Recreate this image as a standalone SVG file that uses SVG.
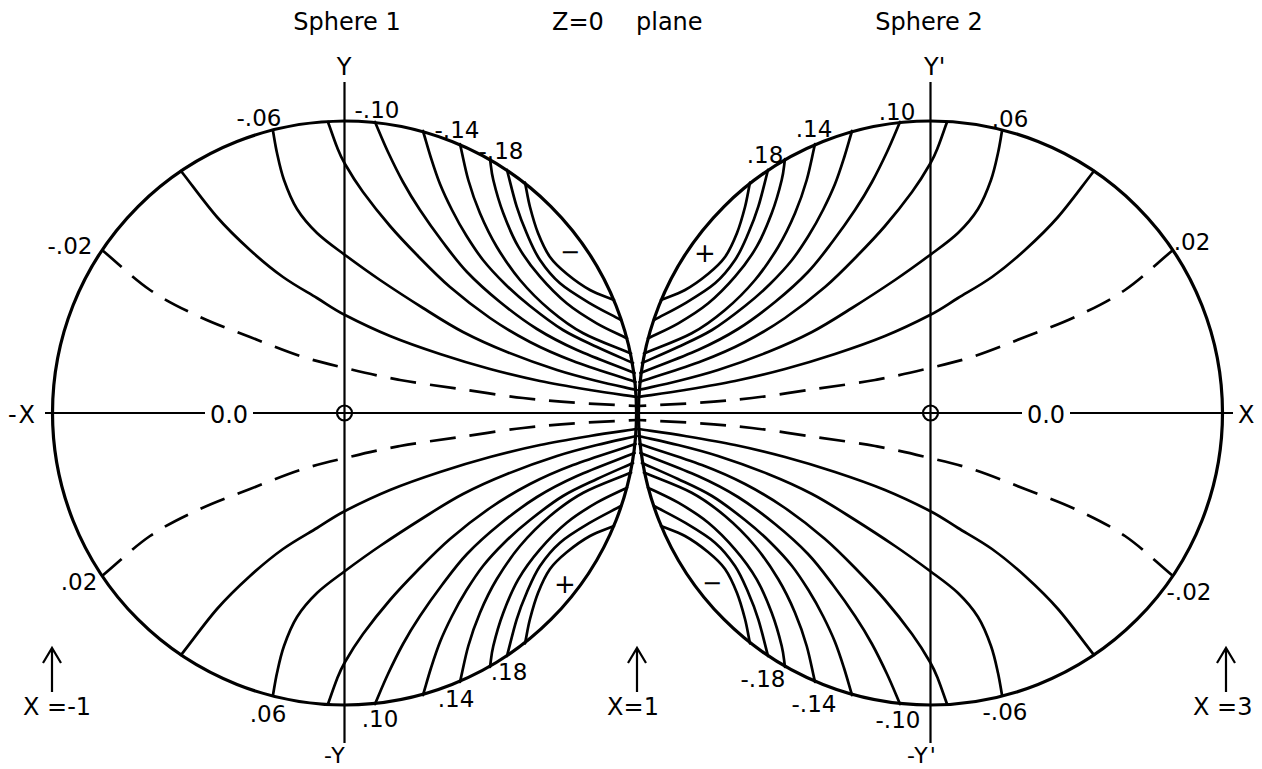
<svg xmlns="http://www.w3.org/2000/svg" width="1262" height="769" viewBox="0 0 1262 769">
<style>
.c{fill:none;stroke:#000;stroke-width:2.7;stroke-linecap:round}
.d{fill:none;stroke:#000;stroke-width:2.7;stroke-dasharray:26 14}
.s{fill:none;stroke:#000;stroke-width:3.2}
.ax{fill:none;stroke:#000;stroke-width:2.2}
text{font-family:"DejaVu Sans","Liberation Sans",sans-serif;fill:#000}
.lb{font-size:23px;text-anchor:middle}
.t{font-size:24px}
.m{text-anchor:middle}
</style>
<defs>
<g id="quad">
<path class="c" d="M525,182.5 C526.7,190.7 527.8,198.6 530,207 C532.2,215.4 534.7,224.7 538,233 C541.3,241.3 545.2,250.2 550,257 C554.8,263.8 560.3,268.5 567,274 C573.7,279.5 582.2,285.7 590,290 C597.8,294.3 606,296.7 614,300"/>
<path class="c" d="M507,170 C510.2,182.2 513.4,196.1 516.7,206.7 C520,217.3 522.8,224.4 526.7,233.3 C530.6,242.2 534.4,251.7 540,260 C545.6,268.3 551.7,276.1 560,283.3 C568.3,290.5 579.8,297.2 590,303.3 C600.2,309.4 610.7,314.4 621,320"/>
<path class="c" d="M490,159 C491.1,166 491.1,171 493.3,180 C495.5,189.1 499.1,202.2 503.3,213.3 C507.5,224.4 512.2,236.1 518.3,246.7 C524.4,257.3 531.9,267.3 540,276.7 C548.1,286.1 557.2,295.5 566.7,303.3 C576.2,311.1 586.7,317.5 596.7,323.3 C606.7,329.1 616.9,333.3 627,338.3"/>
<path class="c" d="M460,144 C462.8,156 465,168.4 468.3,180 C471.6,191.6 475.3,202.2 480,213.3 C484.7,224.4 490,235.6 496.7,246.7 C503.4,257.8 511.1,269.4 520,280 C528.9,290.6 539.4,301.1 550,310 C560.6,318.9 569.8,326.1 583.3,333.3 C596.8,340.6 615.1,346.8 631,353.5"/>
<path class="c" d="M423,131 C425.7,140 428.2,149.2 431,158 C433.8,166.8 436.5,175.3 440,184 C443.5,192.7 447.7,201.5 452,210 C456.3,218.5 460.8,226.7 466,235 C471.2,243.3 476.5,251.8 483,260 C489.5,268.2 497.2,276.3 505,284 C512.8,291.7 520.3,298.3 530,306 C539.7,313.7 551.8,323.2 563,330 C574.2,336.8 585.3,341.5 597,347 C608.7,352.5 621,357.7 633,363"/>
<path class="c" d="M375,122 C379.3,132 383.3,142 388,152 C392.7,162 397.7,172.3 403,182 C408.3,191.7 413.5,200.2 420,210 C426.5,219.8 434.2,230.7 442,241 C449.8,251.3 457.3,261.8 467,272 C476.7,282.2 488.3,292.5 500,302 C511.7,311.5 524.2,321 537,329 C549.8,337 560.7,342.7 577,350 C593.3,357.3 615.3,365.3 634.5,373"/>
<path class="c" d="M328,122 C331,130.3 334.2,140 337,147 C339.8,154 340.7,156.5 345,164 C349.3,171.5 355.5,181.7 363,192 C370.5,202.3 381,215.5 390,226 C399,236.5 407,244.8 417,255 C427,265.2 437.8,276.5 450,287 C462.2,297.5 476.7,308.8 490,318 C503.3,327.2 516.2,334.8 530,342 C543.8,349.2 555.4,354.3 573,361 C590.6,367.7 614.7,375 635.5,382"/>
<path class="c" d="M273,131 C274.3,138.3 275.2,144.8 277,153 C278.8,161.2 280.7,170.7 284,180 C287.3,189.3 291.5,200.2 297,209 C302.5,217.8 309,225.3 317,233 C325,240.7 334.5,247.2 345,255 C355.5,262.8 367,271.2 380,280 C393,288.8 409.2,299.3 423,308 C436.8,316.7 449,324.7 463,332 C477,339.3 491.3,345.7 507,352 C522.7,358.3 542,365.2 557,370 C572,374.8 583.7,377.7 597,381 C610.3,384.3 623.3,387 636.5,390"/>
<path class="c" d="M181,171 C193,186.3 205.5,203.8 217,217 C228.5,230.2 239,240 250,250 C261,260 271.8,269 283,277 C294.2,285 306.7,291.7 317,298 C327.3,304.3 332.8,308.7 345,315 C357.2,321.3 374.2,329.5 390,336 C405.8,342.5 423.3,348.5 440,354 C456.7,359.5 473.3,364.5 490,369 C506.7,373.5 523.3,377.5 540,381 C556.7,384.5 573.8,387.3 590,390 C606.2,392.7 621.3,394.7 637,397"/>
<path class="d" d="M102,250 C118,263.3 133.7,278.8 150,290 C166.3,301.2 183.3,309.2 200,317 C216.7,324.8 233.3,330.5 250,337 C266.7,343.5 284.2,350.8 300,356 C315.8,361.2 328.3,364 345,368 C361.7,372 380.8,376.5 400,380 C419.2,383.5 439.5,386 460,389 C480.5,392 503,395.7 523,398 C543,400.3 561,401.7 580,403 C599,404.3 618,405 637,406"/>
</g>
<path id="arrow" class="ax" d="M0,44 V0 M-9,15 L0,0 L9,15"/>
</defs>
<rect width="1262" height="769" fill="#fff"/>
<g id="contours">
<use href="#quad"/>
<use href="#quad" transform="matrix(1 0 0 -1 0 826)"/>
<use href="#quad" transform="matrix(-1 0 0 1 1275 0)"/>
<use href="#quad" transform="matrix(-1 0 0 -1 1275 826)"/>
</g>
<g id="axes">
<path class="ax" d="M45,413 H205 M253,413 H1022 M1070,413 H1233"/>
<path class="ax" d="M344.5,82 V743 M930.5,82 V743"/>
<circle class="ax" cx="344.5" cy="413" r="7.5"/>
<circle class="ax" cx="930.5" cy="413" r="7.5"/>
</g>
<g id="sphere1">
<circle class="s" cx="344.5" cy="413" r="292"/>
</g>
<g id="sphere2">
<circle class="s" cx="930.5" cy="413" r="292"/>
</g>
<g id="markers">
<use href="#arrow" transform="translate(52,648)"/>
<use href="#arrow" transform="translate(637,648)"/>
<use href="#arrow" transform="translate(1226,648)"/>
</g>
<g id="labels">
<text class="t m" x="347" y="30">Sphere 1</text>
<text class="t" x="552" y="30">Z=0</text>
<text class="t" x="636" y="30">plane</text>
<text class="t m" x="929" y="30">Sphere 2</text>
<text class="t m" x="344" y="75">Y</text>
<text class="t" x="924" y="75">Y'</text>
<text x="324" y="763" font-size="22" letter-spacing="2">-Y</text>
<text x="907" y="763" font-size="22" letter-spacing="2">-Y'</text>
<text class="t" x="8" y="423" letter-spacing="3">-X</text>
<text class="t" x="1238" y="423">X</text>
<text class="t m" x="229" y="423">0.0</text>
<text class="t m" x="1046" y="423">0.0</text>
<text class="lb" x="70" y="254">-.02</text>
<text class="lb" x="259" y="126">-.06</text>
<text class="lb" x="377" y="118">-.10</text>
<text class="lb" x="457" y="138">-.14</text>
<text class="lb" x="501" y="159">-.18</text>
<text class="lb" x="765" y="163">.18</text>
<text class="lb" x="814" y="137">.14</text>
<text class="lb" x="897" y="120">.10</text>
<text class="lb" x="1010" y="127">.06</text>
<text class="lb" x="1192" y="250">.02</text>
<text class="lb" x="79" y="590">.02</text>
<text class="lb" x="268" y="722">.06</text>
<text class="lb" x="380" y="727">.10</text>
<text class="lb" x="456" y="707">.14</text>
<text class="lb" x="509" y="680">.18</text>
<text class="lb" x="763" y="687">-.18</text>
<text class="lb" x="814" y="712">-.14</text>
<text class="lb" x="898" y="728">-.10</text>
<text class="lb" x="1005" y="720">-.06</text>
<text class="lb" x="1189" y="600">-.02</text>
<text class="t m" x="570" y="260">−</text>
<text class="m" x="705" y="262" font-size="26">+</text>
<text class="m" x="565" y="593" font-size="26">+</text>
<text class="t m" x="712" y="591">−</text>
<text class="t" x="23" y="715">X =-1</text>
<text class="t m" x="633" y="715">X=1</text>
<text class="t" x="1193" y="715">X =3</text>
</g>
</svg>
